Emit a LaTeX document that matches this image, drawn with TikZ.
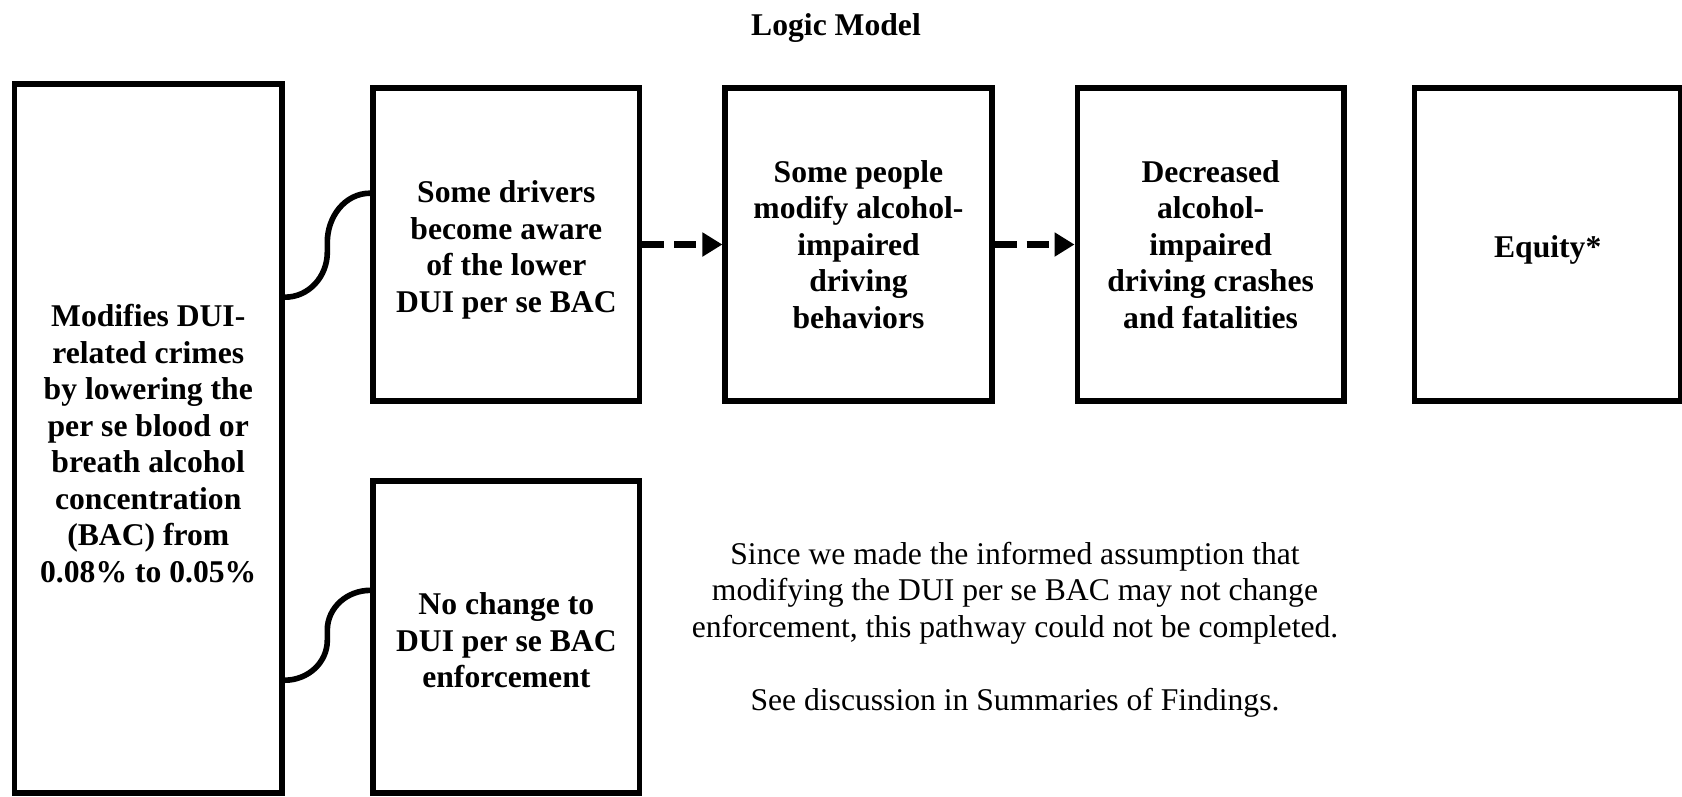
\documentclass[tikz,border=0pt]{standalone}
\usepackage{fontspec}
\setmainfont{Liberation Serif}
\usetikzlibrary{positioning,arrows.meta}
\newcommand{\topstrut}{\rule{0pt}{18.5pt}}

\begin{document}
\begin{tikzpicture}[
    box/.style={draw,line width=3.2pt,minimum width=5.33cm,minimum height=6.26cm,
      inner sep=0pt,align=center,font=\fontsize{18}{20.8}\selectfont\bfseries},
    curly/.style={line width=3.2pt},
    dasharrow/.style={line width=4.5pt,dash pattern=on 0.44cm off 0.2cm,
      -{Triangle[length=0.4cm,width=0.46cm]}},
    note/.style={align=center,font=\fontsize{18}{20.8}\selectfont},
    node distance=1.6cm]
  \useasboundingbox (0,0) rectangle (33.64,-15.92);
  \clip (0,0) rectangle (33.64,-15.92);
  \node[font=\fontsize{18}{20.8}\selectfont\bfseries] (title) at (16.72,-0.56) {Logic Model};
  \node[box,minimum width=5.35cm,minimum height=14.18cm] (main) at (2.965,-8.77)
    {\topstrut Modifies DUI-\\related crimes\\by lowering the\\per se blood or\\breath alcohol\\concentration\\(BAC) from\\0.08\% to 0.05\%};
  \node[box] (aware) at (10.127,-4.89) {\topstrut Some drivers\\become aware\\of the lower\\DUI per se BAC};
  \node[box,right=of aware] (people) {Some people\\modify alcohol-\\impaired\\driving\\behaviors};
  \node[box,right=of people] (crashes) {Decreased\\alcohol-\\impaired\\driving crashes\\and fatalities};
  \node[box,right=1.3cm of crashes] (equity) {\topstrut Equity*};
  \node[box,below=1.49cm of aware,minimum height=6.24cm] (nochange) {\rule{0pt}{16pt}No change to\\DUI per se BAC\\enforcement};
  \node[note] (note) at (20.30,-12.59) {Since we made the informed assumption that\\modifying the DUI per se BAC may not change\\enforcement, this pathway could not be completed.\\[20.8pt]See discussion in Summaries of Findings.};
  % brackets from the law change
  \draw[curly] ([yshift=-4.32cm]main.north east) to[out=0,in=-90] ++(0.85,0.9) -- ++(0,0.2)
    to[out=90,in=180] ([yshift=-2.16cm]aware.north west);
  \draw[curly] ([yshift=-11.98cm]main.north east) to[out=0,in=-90] ++(0.85,0.8) -- ++(0,0.2)
    to[out=90,in=180] ([yshift=-2.24cm]nochange.north west);
  % pathway
  \draw[dasharrow] (aware) -- (people);
  \draw[dasharrow] (people) -- (crashes);
\end{tikzpicture}
\end{document}
